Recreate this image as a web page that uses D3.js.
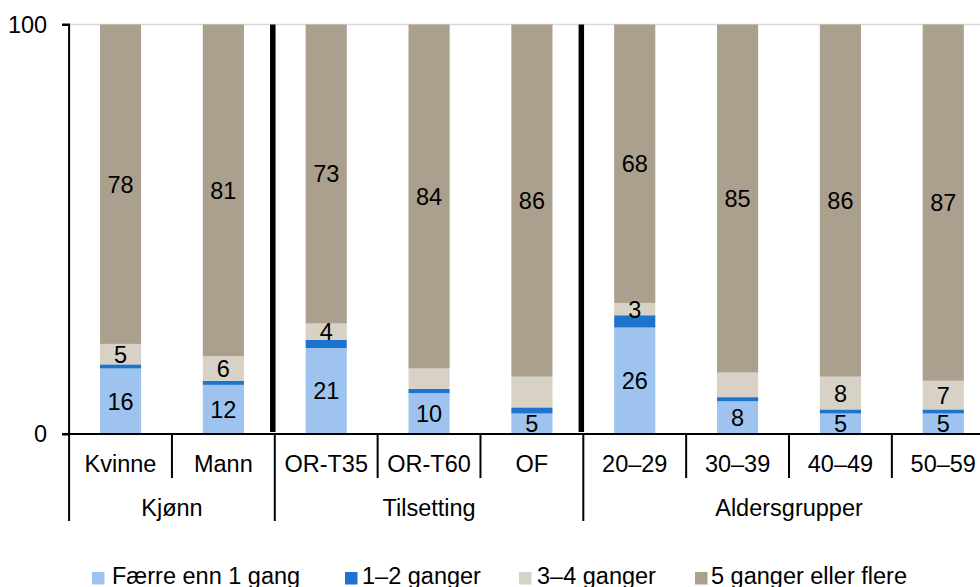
<!DOCTYPE html>
<html>
<head>
<meta charset="utf-8">
<script src="https://cdn.jsdelivr.net/npm/d3@7"></script>
<style>
  html, body { margin: 0; padding: 0; background: #fff; }
  svg { display: block; font-family: "Liberation Sans", Arial, sans-serif; }
</style>
</head>
<body>
<svg id="chart" width="980" height="587"></svg>
<script>
// Categories and their groups
const categories = ["Kvinne", "Mann", "OR-T35", "OR-T60", "OF", "20–29", "30–39", "40–49", "50–59"];
const groups = [
  { name: "Kjønn", members: ["Kvinne", "Mann"] },
  { name: "Tilsetting", members: ["OR-T35", "OR-T60", "OF"] },
  { name: "Aldersgrupper", members: ["20–29", "30–39", "40–49", "50–59"] }
];

// Share (%) per answer, one array per series
const faerreEnn1 = [16, 12, 21, 10, 5, 26, 8, 5, 5];
const ganger1_2  = [1, 1, 2, 1, 1.5, 3, 1, 1, 1];
const ganger3_4  = [5, 6, 4, 5, 7.5, 3, 6, 8, 7];
const ganger5pl  = [78, 81, 73, 84, 86, 68, 85, 86, 87];

// Which segments carry a value label
const showFaerre = [true, true, true, true, true, true, true, true, true];
const show1_2    = [false, false, false, false, false, false, false, false, false];
const show3_4    = [true, true, true, false, false, true, false, true, true];
const show5pl    = [true, true, true, true, true, true, true, true, true];

const seriesNames = ["Færre enn 1 gang", "1–2 ganger", "3–4 ganger", "5 ganger eller flere"];
const seriesValues = [faerreEnn1, ganger1_2, ganger3_4, ganger5pl];
const seriesShow = [showFaerre, show1_2, show3_4, show5pl];
const seriesColors = ["#9DC3EE", "#1C74CC", "#D8D2C6", "#AB9F8D"];

const yTicks = [0, 100];

const svg = d3.select("#chart");
const FONT = 23.5;

const plotLeft = 69.1, plotRight = 994.7, plotTop = 24.5, plotBottom = 434;

const x = d3.scaleBand().domain(categories).range([plotLeft, plotRight]).paddingInner(0).paddingOuter(0);
const y = d3.scaleLinear().domain([0, 100]).range([plotBottom, plotTop]);
const step = x.step();
const barW = step * 0.4;

// Light line along the top of the plot
svg.append("line")
  .attr("x1", plotLeft).attr("x2", 980)
  .attr("y1", y(100)).attr("y2", y(100))
  .attr("stroke", "#d9d9d9").attr("stroke-width", 1.5);

// Stack the series
const rows = categories.map((c, i) => {
  const r = { cat: c };
  seriesNames.forEach((s, k) => { r[s] = seriesValues[k][i]; });
  return r;
});
const stacked = d3.stack().keys(seriesNames)(rows);

const layers = svg.append("g").selectAll("g")
  .data(stacked).join("g")
  .attr("fill", (d, k) => seriesColors[k]);

layers.selectAll("rect")
  .data(d => d)
  .join("rect")
  .attr("x", d => x(d.data.cat) + (step - barW) / 2)
  .attr("width", barW)
  .attr("y", d => y(d[1]))
  .attr("height", d => y(d[0]) - y(d[1]));

// Value labels
stacked.forEach((layer, k) => {
  svg.append("g").selectAll("text")
    .data(layer.filter((d, i) => seriesShow[k][i]))
    .join("text")
    .attr("x", d => x(d.data.cat) + step / 2)
    .attr("y", d => y((d[0] + d[1]) / 2))
    .attr("dy", "0.36em")
    .attr("text-anchor", "middle")
    .attr("font-size", FONT)
    .attr("fill", "#000")
    .text(d => d.data[seriesNames[k]]);
});

// Thick separators between groups
const groupEdges = groups.slice(1).map(g => x(g.members[0]));
svg.append("g").selectAll("line")
  .data(groupEdges).join("line")
  .attr("x1", d => d - 2).attr("x2", d => d - 2)
  .attr("y1", y(100)).attr("y2", y(0) - 2)
  .attr("stroke", "#000").attr("stroke-width", 5.5);

// Y axis
const yAxis = d3.axisLeft(y).tickValues(yTicks).tickSize(7).tickPadding(15);
const yg = svg.append("g").attr("transform", `translate(${plotLeft},0)`).call(yAxis);
yg.select(".domain").attr("stroke", "#000").attr("stroke-width", 2).attr("d", `M-7,${y(100)}H0V${y(0)}`);
yg.selectAll(".tick line").attr("stroke", "#000").attr("stroke-width", 2);
yg.selectAll(".tick text").attr("font-size", FONT).attr("font-family", "Liberation Sans, Arial, sans-serif").attr("fill", "#000");

// Category axis line
svg.append("line")
  .attr("x1", plotLeft - 7).attr("x2", 980)
  .attr("y1", y(0)).attr("y2", y(0))
  .attr("stroke", "#000").attr("stroke-width", 2);

// Category dividers (short) and group dividers (long)
const groupStarts = new Set(groups.map(g => g.members[0]));
const dividers = categories.map(c => ({ x: x(c), long: groupStarts.has(c) }));
dividers.push({ x: plotRight, long: true });
svg.append("g").selectAll("line")
  .data(dividers).join("line")
  .attr("x1", d => d.x).attr("x2", d => d.x)
  .attr("y1", y(0))
  .attr("y2", d => d.long ? 521 : 478)
  .attr("stroke", "#000").attr("stroke-width", 2);

// Category labels
svg.append("g").selectAll("text")
  .data(categories).join("text")
  .attr("x", c => x(c) + step / 2)
  .attr("y", 472)
  .attr("text-anchor", "middle")
  .attr("font-size", FONT)
  .text(c => c);

// Group labels
svg.append("g").selectAll("text")
  .data(groups).join("text")
  .attr("x", g => (x(g.members[0]) + x(g.members[g.members.length - 1]) + step) / 2)
  .attr("y", 516)
  .attr("text-anchor", "middle")
  .attr("font-size", FONT)
  .text(g => g.name);

// Legend
const legendSwatchX = [92, 345, 519, 695];
const legendTextX = [112, 362, 537, 711];
const lg = svg.append("g").selectAll("g")
  .data(seriesNames).join("g");
lg.append("rect")
  .attr("x", (d, k) => legendSwatchX[k]).attr("y", 572)
  .attr("width", 12.5).attr("height", 12.5)
  .attr("fill", (d, k) => seriesColors[k]);
lg.append("text")
  .attr("x", (d, k) => legendTextX[k]).attr("y", 584)
  .attr("font-size", FONT).text(d => d);
</script>
</body>
</html>
